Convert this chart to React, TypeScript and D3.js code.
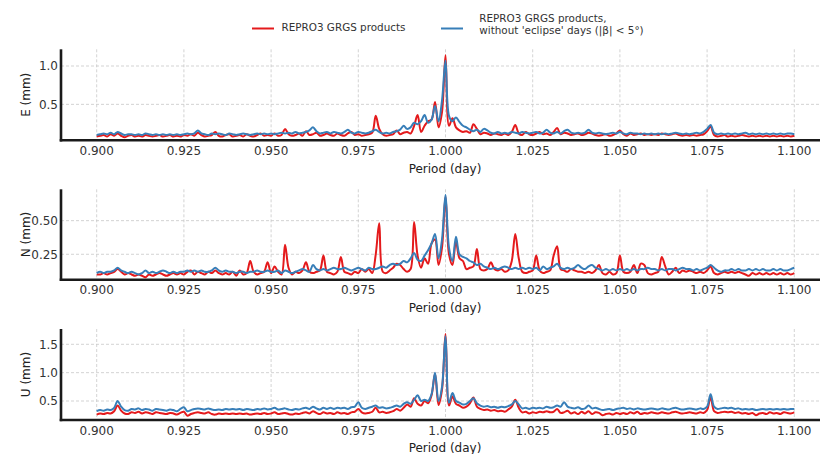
import React from "react";
import * as d3 from "d3";

// Periods (day), step 0.001 from 0.900 to 1.100
const periods: number[] = Array.from({ length: 201 }, (_, i) => +(0.9 + i * 0.001).toFixed(3));

const xTicks = [0.9, 0.925, 0.95, 0.975, 1.0, 1.025, 1.05, 1.075, 1.1];

const eRed = [
  0.08,0.09,0.10,0.08,0.11,0.09,0.12,0.09,0.07,0.09,
  0.10,0.08,0.09,0.08,0.10,0.09,0.08,0.09,0.10,0.08,
  0.09,0.10,0.08,0.09,0.08,0.10,0.09,0.11,0.09,0.13,
  0.10,0.08,0.09,0.10,0.14,0.09,0.08,0.10,0.11,0.08,
  0.09,0.10,0.08,0.11,0.09,0.08,0.10,0.12,0.09,0.10,
  0.09,0.12,0.09,0.10,0.18,0.11,0.09,0.10,0.12,0.09,
  0.15,0.10,0.11,0.13,0.09,0.10,0.12,0.10,0.09,0.12,
  0.10,0.09,0.12,0.14,0.10,0.11,0.09,0.10,0.11,0.13,
  0.35,0.18,0.11,0.09,0.10,0.11,0.16,0.11,0.13,0.14,
  0.12,0.22,0.36,0.14,0.22,0.28,0.30,0.53,0.20,0.40,
  1.14,
  0.22,0.32,0.20,0.16,0.14,0.15,0.13,0.24,0.18,0.11,
  0.13,0.12,0.10,0.12,0.11,0.10,0.12,0.10,0.14,0.23,
  0.12,0.10,0.14,0.11,0.10,0.12,0.14,0.11,0.12,0.10,
  0.14,0.19,0.11,0.13,0.12,0.10,0.11,0.12,0.10,0.11,
  0.13,0.12,0.10,0.09,0.10,0.11,0.09,0.10,0.12,0.16,
  0.11,0.09,0.12,0.10,0.11,0.12,0.10,0.11,0.10,0.11,
  0.10,0.12,0.11,0.10,0.11,0.12,0.10,0.09,0.10,0.09,
  0.10,0.09,0.10,0.11,0.15,0.21,0.10,0.08,0.09,0.10,
  0.08,0.09,0.08,0.09,0.10,0.09,0.08,0.09,0.08,0.09,
  0.08,0.09,0.08,0.09,0.08,0.09,0.08,0.09,0.08,0.09,
];

const eBlue = [
  0.10,0.11,0.12,0.11,0.13,0.11,0.14,0.12,0.10,0.11,
  0.11,0.10,0.11,0.10,0.12,0.11,0.10,0.11,0.10,0.11,
  0.10,0.11,0.10,0.11,0.10,0.11,0.12,0.11,0.12,0.16,
  0.12,0.11,0.10,0.12,0.11,0.12,0.11,0.10,0.12,0.11,
  0.10,0.11,0.12,0.11,0.10,0.11,0.12,0.11,0.12,0.11,
  0.12,0.11,0.12,0.13,0.12,0.13,0.12,0.14,0.12,0.13,
  0.14,0.16,0.20,0.15,0.12,0.13,0.14,0.12,0.14,0.13,
  0.12,0.14,0.17,0.13,0.12,0.14,0.13,0.12,0.13,0.15,
  0.17,0.14,0.12,0.13,0.12,0.14,0.15,0.17,0.22,0.18,
  0.20,0.26,0.24,0.28,0.36,0.26,0.30,0.48,0.28,0.55,
  1.07,
  0.35,0.28,0.33,0.27,0.22,0.20,0.17,0.15,0.17,0.14,
  0.18,0.16,0.13,0.12,0.14,0.12,0.13,0.12,0.14,0.13,
  0.12,0.14,0.13,0.12,0.13,0.14,0.12,0.13,0.17,0.13,
  0.12,0.14,0.12,0.15,0.17,0.13,0.12,0.13,0.12,0.13,
  0.17,0.13,0.12,0.13,0.12,0.11,0.12,0.13,0.12,0.14,
  0.12,0.11,0.13,0.12,0.12,0.11,0.12,0.11,0.12,0.11,
  0.12,0.11,0.12,0.11,0.12,0.13,0.12,0.11,0.12,0.11,
  0.12,0.13,0.12,0.14,0.18,0.23,0.13,0.11,0.12,0.11,
  0.12,0.11,0.12,0.11,0.12,0.13,0.11,0.12,0.11,0.12,
  0.11,0.12,0.11,0.12,0.11,0.12,0.11,0.12,0.12,0.11,
];

const nRed = [
  0.10,0.10,0.11,0.10,0.11,0.12,0.14,0.12,0.10,0.11,
  0.10,0.09,0.10,0.09,0.08,0.10,0.09,0.10,0.11,0.10,
  0.09,0.10,0.11,0.10,0.11,0.10,0.12,0.13,0.10,0.12,
  0.11,0.10,0.12,0.11,0.13,0.11,0.10,0.11,0.10,0.12,
  0.09,0.13,0.10,0.11,0.20,0.12,0.10,0.11,0.12,0.19,
  0.11,0.16,0.12,0.10,0.32,0.15,0.10,0.12,0.11,0.13,
  0.19,0.12,0.11,0.12,0.13,0.24,0.12,0.11,0.10,0.12,
  0.23,0.12,0.11,0.10,0.12,0.11,0.14,0.12,0.14,0.11,
  0.25,0.48,0.12,0.11,0.13,0.15,0.18,0.17,0.14,0.12,
  0.14,0.49,0.24,0.15,0.22,0.18,0.33,0.36,0.17,0.30,
  0.68,
  0.25,0.17,0.35,0.22,0.20,0.14,0.15,0.16,0.29,0.14,
  0.13,0.14,0.19,0.14,0.13,0.14,0.12,0.13,0.20,0.40,
  0.22,0.12,0.11,0.12,0.13,0.24,0.13,0.11,0.12,0.13,
  0.24,0.31,0.14,0.13,0.12,0.14,0.13,0.12,0.12,0.11,
  0.12,0.11,0.13,0.17,0.11,0.10,0.12,0.10,0.11,0.24,
  0.12,0.11,0.12,0.17,0.11,0.18,0.17,0.11,0.10,0.11,
  0.12,0.23,0.16,0.10,0.12,0.15,0.11,0.13,0.12,0.13,
  0.12,0.11,0.12,0.11,0.13,0.16,0.11,0.10,0.11,0.12,
  0.11,0.12,0.11,0.12,0.11,0.10,0.09,0.11,0.10,0.11,
  0.10,0.11,0.10,0.11,0.10,0.11,0.10,0.11,0.10,0.11,
];

const nBlue = [
  0.11,0.12,0.11,0.12,0.12,0.13,0.15,0.13,0.12,0.11,
  0.12,0.11,0.10,0.11,0.13,0.11,0.12,0.11,0.12,0.13,
  0.12,0.11,0.12,0.11,0.12,0.12,0.13,0.12,0.13,0.12,
  0.13,0.12,0.12,0.13,0.15,0.13,0.12,0.13,0.12,0.12,
  0.11,0.12,0.12,0.11,0.12,0.12,0.13,0.12,0.12,0.13,
  0.12,0.12,0.13,0.11,0.13,0.12,0.11,0.12,0.13,0.14,
  0.13,0.12,0.17,0.14,0.13,0.14,0.13,0.14,0.15,0.14,
  0.14,0.15,0.14,0.13,0.14,0.15,0.14,0.13,0.15,0.14,
  0.14,0.15,0.16,0.15,0.17,0.18,0.17,0.18,0.20,0.19,
  0.22,0.26,0.21,0.20,0.24,0.28,0.33,0.40,0.22,0.36,
  0.69,
  0.30,0.20,0.38,0.25,0.23,0.22,0.20,0.19,0.17,0.18,
  0.16,0.15,0.14,0.15,0.14,0.15,0.16,0.15,0.14,0.15,
  0.14,0.15,0.14,0.15,0.14,0.15,0.13,0.16,0.14,0.15,
  0.16,0.18,0.15,0.14,0.15,0.14,0.15,0.17,0.15,0.14,
  0.16,0.17,0.15,0.14,0.13,0.14,0.13,0.14,0.13,0.14,
  0.13,0.14,0.13,0.14,0.13,0.14,0.14,0.15,0.14,0.14,
  0.13,0.14,0.13,0.14,0.14,0.13,0.14,0.15,0.14,0.14,
  0.13,0.14,0.13,0.14,0.15,0.17,0.15,0.13,0.12,0.13,
  0.13,0.14,0.13,0.14,0.13,0.13,0.14,0.13,0.14,0.13,
  0.14,0.13,0.13,0.14,0.13,0.14,0.13,0.13,0.14,0.15,
];

const uRed = [
  0.26,0.28,0.27,0.29,0.28,0.32,0.42,0.33,0.28,0.27,
  0.30,0.29,0.31,0.28,0.30,0.29,0.27,0.30,0.29,0.28,
  0.27,0.29,0.28,0.26,0.29,0.31,0.24,0.27,0.29,0.30,
  0.29,0.28,0.30,0.27,0.26,0.28,0.27,0.28,0.27,0.28,
  0.27,0.28,0.27,0.28,0.26,0.27,0.28,0.27,0.29,0.27,
  0.28,0.30,0.27,0.28,0.29,0.27,0.26,0.28,0.27,0.29,
  0.30,0.28,0.32,0.29,0.27,0.30,0.28,0.29,0.27,0.30,
  0.28,0.29,0.27,0.30,0.31,0.36,0.30,0.28,0.29,0.31,
  0.38,0.30,0.31,0.29,0.30,0.32,0.36,0.33,0.38,0.44,
  0.40,0.55,0.45,0.42,0.50,0.46,0.60,0.98,0.43,0.70,
  1.68,
  0.42,0.58,0.45,0.42,0.38,0.40,0.46,0.56,0.40,0.36,
  0.34,0.35,0.33,0.34,0.32,0.33,0.31,0.35,0.40,0.52,
  0.38,0.30,0.31,0.28,0.30,0.29,0.31,0.30,0.32,0.30,
  0.31,0.36,0.29,0.30,0.33,0.28,0.30,0.27,0.31,0.28,
  0.32,0.27,0.30,0.29,0.25,0.27,0.28,0.26,0.29,0.27,
  0.29,0.27,0.30,0.28,0.31,0.27,0.29,0.28,0.30,0.29,
  0.28,0.30,0.29,0.28,0.30,0.31,0.29,0.28,0.29,0.30,
  0.29,0.28,0.30,0.29,0.34,0.57,0.32,0.29,0.30,0.31,
  0.30,0.31,0.29,0.30,0.28,0.29,0.27,0.29,0.25,0.28,
  0.29,0.27,0.30,0.28,0.29,0.27,0.30,0.29,0.28,0.30,
];

const uBlue = [
  0.32,0.34,0.33,0.35,0.34,0.38,0.50,0.40,0.34,0.33,
  0.36,0.35,0.37,0.34,0.36,0.35,0.33,0.36,0.35,0.34,
  0.33,0.35,0.34,0.32,0.36,0.39,0.32,0.34,0.36,0.37,
  0.36,0.35,0.37,0.35,0.34,0.35,0.34,0.36,0.35,0.36,
  0.35,0.36,0.34,0.36,0.35,0.34,0.36,0.35,0.37,0.35,
  0.36,0.38,0.35,0.36,0.37,0.35,0.34,0.36,0.35,0.37,
  0.38,0.36,0.40,0.37,0.35,0.38,0.36,0.38,0.36,0.38,
  0.37,0.38,0.36,0.39,0.40,0.48,0.38,0.36,0.38,0.40,
  0.42,0.38,0.39,0.37,0.38,0.40,0.42,0.40,0.45,0.48,
  0.45,0.52,0.60,0.50,0.52,0.50,0.62,1.00,0.50,0.75,
  1.64,
  0.47,0.64,0.50,0.47,0.44,0.45,0.50,0.55,0.46,0.42,
  0.40,0.41,0.39,0.40,0.38,0.40,0.39,0.41,0.44,0.50,
  0.44,0.37,0.38,0.36,0.38,0.37,0.38,0.37,0.40,0.38,
  0.39,0.42,0.40,0.48,0.40,0.38,0.37,0.39,0.36,0.37,
  0.42,0.37,0.38,0.36,0.34,0.35,0.36,0.34,0.36,0.37,
  0.38,0.36,0.37,0.35,0.37,0.36,0.35,0.36,0.37,0.36,
  0.35,0.37,0.36,0.35,0.37,0.38,0.36,0.35,0.36,0.37,
  0.36,0.35,0.37,0.36,0.40,0.62,0.40,0.36,0.37,0.38,
  0.37,0.38,0.36,0.37,0.35,0.36,0.35,0.36,0.34,0.35,
  0.36,0.35,0.36,0.35,0.36,0.35,0.36,0.35,0.36,0.36,
];

const seriesNames = ["REPRO3 GRGS products", "REPRO3 GRGS products,", "without 'eclipse' days (|β| < 5°)"];
const colors = { red: "#e41a1c", blue: "#377eb8" };

const panels = [
  { label: "E (mm)", red: eRed, blue: eBlue, yDomain: [0.031, 1.218], yTicks: [0.5, 1.0], fmt: ".1f", top: 49.3, bottom: 140.3 },
  { label: "N (mm)", red: nRed, blue: nBlue, yDomain: [0.061, 0.733], yTicks: [0.25, 0.5], fmt: ".2f", top: 189.3, bottom: 279.7 },
  { label: "U (mm)", red: uRed, blue: uBlue, yDomain: [0.165, 1.77], yTicks: [0.5, 1.0, 1.5], fmt: ".1f", top: 329, bottom: 420 },
];

const FONT = "'DejaVu Sans', sans-serif";
const LEFT = 61;
const RIGHT = 829;

export default function App() {
  const x = d3.scaleLinear().domain([0.9, 1.1]).range([96.7, 794.3]);
  const fx = d3.format(".3f");
  return (
    <svg width={820} height={454} style={{ position: "absolute", left: 0, top: 0, background: "#fff" }} fontFamily={FONT}>
      {/* legend */}
      <g>
        <line x1={252} x2={274} y1={28.5} y2={28.5} stroke={colors.red} strokeWidth={2} />
        <text x={281.5} y={30.7} fontSize={10.4} fill="#333">{seriesNames[0]}</text>
        <line x1={441} x2={463} y1={28.5} y2={28.5} stroke={colors.blue} strokeWidth={2} />
        <text x={479.3} y={21.9} fontSize={10.4} fill="#333">{seriesNames[1]}</text>
        <text x={479.3} y={34.3} fontSize={10.4} fill="#333">{seriesNames[2]}</text>
      </g>
      {panels.map((p, pi) => {
        const y = d3.scaleLinear().domain(p.yDomain).range([p.bottom, p.top]);
        const fy = d3.format(p.fmt);
        const line = (vals: number[]) =>
          d3.line<number>().x((_, i) => x(periods[i])).y((v) => y(v)).curve(d3.curveCatmullRom.alpha(0.5))(vals) || "";
        return (
          <g key={pi}>
            {xTicks.map((t) => (
              <line key={"gx" + t} x1={x(t)} x2={x(t)} y1={p.top} y2={p.bottom} stroke="#c8c8c8" strokeWidth={0.8} strokeDasharray="3,2" />
            ))}
            {p.yTicks.map((t) => (
              <line key={"gy" + t} x1={LEFT} x2={RIGHT} y1={y(t)} y2={y(t)} stroke="#c8c8c8" strokeWidth={0.8} strokeDasharray="3,2" />
            ))}
            <path d={line(p.red)} fill="none" stroke={colors.red} strokeWidth={2} strokeLinejoin="round" />
            <path d={line(p.blue)} fill="none" stroke={colors.blue} strokeWidth={2} strokeLinejoin="round" />
            <line x1={LEFT} x2={LEFT} y1={p.top} y2={p.bottom + 1.2} stroke="#1a1a1a" strokeWidth={2.6} />
            <line x1={LEFT - 1.3} x2={RIGHT} y1={p.bottom} y2={p.bottom} stroke="#1a1a1a" strokeWidth={2.4} />
            {xTicks.map((t) => (
              <text key={"tx" + t} x={x(t)} y={p.bottom + 14.7} fontSize={12} fill="#333" textAnchor="middle">{fx(t)}</text>
            ))}
            {p.yTicks.map((t) => (
              <text key={"ty" + t} x={58} y={y(t)} dy="0.36em" fontSize={12} fill="#333" textAnchor="end">{fy(t)}</text>
            ))}
            <text transform={`translate(30,${(p.top + p.bottom) / 2}) rotate(-90)`} textAnchor="middle" fontSize={12} fill="#222">{p.label}</text>
            <text x={445} y={p.bottom + 32.4} textAnchor="middle" fontSize={12} fill="#222">Period (day)</text>
          </g>
        );
      })}
    </svg>
  );
}
